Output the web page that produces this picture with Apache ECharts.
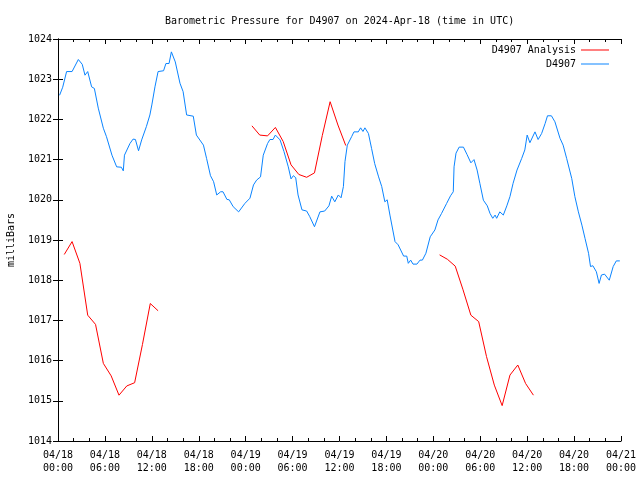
<!DOCTYPE html>
<html>
<head>
<meta charset="utf-8">
<script src="https://cdn.jsdelivr.net/npm/echarts@6/dist/echarts.min.js"></script>
<style>html,body{margin:0;padding:0;background:#fff}#c{width:640px;height:480px}</style>
</head>
<body>
<div id="c"></div>
<script>
// Hours since 2024-04-18 00:00 UTC
const blueT = [0.2,0.6,1.1,1.8,2.6,3.1,3.45,3.8,4.3,4.65,5.15,5.8,6.2,6.9,7.5,8.1,8.35,8.5,9.2,9.6,9.9,10.3,10.7,11.3,11.75,12.0,12.4,12.8,13.5,13.8,14.2,14.5,15.0,15.6,16.0,16.45,17.3,17.7,18.6,19.0,19.5,19.9,20.3,20.8,21.1,21.6,21.9,22.4,23.1,23.9,24.55,25.0,25.4,25.9,26.25,26.8,27.1,27.5,27.8,28.4,28.9,29.45,29.8,30.1,30.4,30.7,31.2,31.8,32.2,32.8,33.5,34.1,34.65,35.0,35.4,35.85,36.2,36.5,36.7,37.0,37.55,37.85,38.4,38.7,39.0,39.25,39.7,40.1,40.5,41.0,41.4,41.8,42.1,42.45,43.1,43.5,44.2,44.6,44.8,45.1,45.4,45.9,46.3,46.6,47.05,47.6,48.2,48.6,49.05,49.7,50.2,50.55,50.65,50.9,51.3,51.85,52.3,52.8,53.2,53.6,53.95,54.4,54.9,55.25,55.6,55.9,56.1,56.5,56.95,57.4,57.8,58.2,58.7,59.3,59.7,60.0,60.35,60.6,61.0,61.4,61.85,62.3,62.6,63.1,63.55,64.2,64.6,65.05,65.7,66.1,66.55,67.0,67.4,67.85,68.1,68.4,68.85,69.2,69.5,69.9,70.5,71.0,71.4,71.85];
const blueP = [1022.6,1022.8,1023.19,1023.19,1023.49,1023.37,1023.1,1023.19,1022.81,1022.77,1022.28,1021.78,1021.57,1021.11,1020.82,1020.81,1020.72,1021.11,1021.4,1021.51,1021.5,1021.22,1021.49,1021.82,1022.11,1022.36,1022.81,1023.19,1023.21,1023.39,1023.39,1023.68,1023.43,1022.9,1022.69,1022.11,1022.08,1021.61,1021.36,1021.03,1020.6,1020.45,1020.12,1020.2,1020.2,1020.01,1020.0,1019.83,1019.7,1019.91,1020.04,1020.37,1020.49,1020.57,1021.11,1021.4,1021.5,1021.5,1021.61,1021.49,1021.2,1020.82,1020.52,1020.6,1020.55,1020.12,1019.75,1019.72,1019.58,1019.33,1019.7,1019.72,1019.85,1020.09,1019.95,1020.12,1020.05,1020.33,1020.95,1021.36,1021.57,1021.69,1021.69,1021.79,1021.7,1021.79,1021.65,1021.28,1020.9,1020.57,1020.33,1019.95,1020.0,1019.62,1018.96,1018.88,1018.6,1018.6,1018.42,1018.5,1018.4,1018.4,1018.5,1018.5,1018.67,1019.08,1019.25,1019.5,1019.66,1019.91,1020.1,1020.2,1020.82,1021.16,1021.31,1021.31,1021.13,1020.92,1021.0,1020.74,1020.41,1019.99,1019.85,1019.66,1019.54,1019.62,1019.54,1019.7,1019.62,1019.85,1020.08,1020.41,1020.74,1021.03,1021.24,1021.61,1021.42,1021.42,1021.69,1021.5,1021.65,1021.9,1022.09,1022.09,1021.94,1021.53,1021.36,1021.03,1020.53,1020.08,1019.7,1019.37,1019.04,1018.67,1018.34,1018.36,1018.21,1017.92,1018.13,1018.15,1018.0,1018.34,1018.48,1018.48];

const redT = [0.8,1.8,2.8,3.8,4.8,5.8,6.8,7.8,8.8,9.8,10.8,11.8,12.8, 18.8,
  24.8,25.8,26.8,27.8,28.8,29.8,30.8,31.8,32.8,33.8,34.8,35.8,36.8, 42.8,
  48.8,49.8,50.8,51.8,52.8,53.8,54.8,55.8,56.8,57.8,58.8,59.8,60.8];
const redP = [1018.64,1018.96,1018.42,1017.13,1016.9,1015.93,1015.62,1015.14,1015.37,1015.45,1016.4,1017.42,1017.24, null,
  1021.84,1021.61,1021.59,1021.8,1021.45,1020.87,1020.63,1020.56,1020.67,1021.6,1022.44,1021.86,1021.35, null,
  1018.63,1018.52,1018.35,1017.76,1017.13,1016.97,1016.1,1015.39,1014.88,1015.64,1015.89,1015.43,1015.14];

const titleText = 'Barometric Pressure for D4907 on 2024-Apr-18 (time in UTC)';
const seriesNames = ['D4907 Analysis', 'D4907'];
const yName = 'milliBars';

const FONT = 'DejaVu Sans Mono';
function xLabel(v) {
  const day = 18 + Math.floor(v / 24);
  const hr = v % 24;
  const dd = '04/' + day;
  return dd + '\n' + String(hr).padStart(2, '0') + ':00';
}
const tickBase = {show: true, inside: true, length: 5, lineStyle: {color: '#000', width: 1}};
const minorBase = {show: true, splitNumber: 3, length: 3, lineStyle: {color: '#000', width: 1}};
const lineBase = {show: true, lineStyle: {color: '#000', width: 1}};

const chart = echarts.init(document.getElementById('c'), null, {renderer: 'canvas'});
chart.setOption({
  animation: false,
  backgroundColor: '#fff',
  title: {
    text: titleText, left: 165, top: 16, padding: 0,
    textStyle: {fontFamily: FONT, fontSize: 10, fontWeight: 'normal', color: '#000'}
  },
  legend: {
    orient: 'vertical', right: 31, top: 44, align: 'right', padding: 0,
    itemWidth: 28, itemHeight: 1, itemGap: 2, icon: 'rect',
    textStyle: {fontFamily: FONT, fontSize: 10, color: '#000', lineHeight: 12},
    data: seriesNames
  },
  grid: {left: 58, right: 19, top: 39, bottom: 39, containLabel: false, outerBoundsMode: 'none'},
  xAxis: [{
    type: 'value', min: 0, max: 72, interval: 6, position: 'bottom',
    axisLine: lineBase, axisTick: tickBase, minorTick: minorBase,
    splitLine: {show: false},
    axisLabel: {formatter: xLabel, fontFamily: FONT, fontSize: 10, color: '#000', margin: 8, lineHeight: 13}
  }, {
    type: 'value', min: 0, max: 72, interval: 6, position: 'top',
    axisLine: lineBase, axisTick: tickBase, minorTick: minorBase,
    splitLine: {show: false}, axisLabel: {show: false}
  }],
  yAxis: [{
    type: 'value', min: 1014, max: 1024, interval: 1, position: 'left',
    name: yName, nameLocation: 'middle', nameGap: 42, nameRotate: 90,
    nameTextStyle: {fontFamily: FONT, fontSize: 10, color: '#000'},
    axisLine: lineBase, axisTick: tickBase, splitLine: {show: false},
    axisLabel: {formatter: v => String(v), fontFamily: FONT, fontSize: 10, color: '#000', margin: 6}
  }, {
    type: 'value', min: 1014, max: 1024, interval: 1, position: 'right',
    axisLine: lineBase, axisTick: tickBase, splitLine: {show: false},
    axisLabel: {show: false}
  }],
  series: [{
    name: seriesNames[1], type: 'line', symbol: 'none', connectNulls: false,
    color: '#0a84ff', lineStyle: {color: '#0a84ff', width: 1},
    data: blueT.map((t, i) => [t, blueP[i]])
  }, {
    name: seriesNames[0], type: 'line', symbol: 'none', connectNulls: false,
    color: '#ff0000', lineStyle: {color: '#ff0000', width: 1},
    data: redT.map((t, i) => [t, redP[i]])
  }]
});
</script>
</body>
</html>
